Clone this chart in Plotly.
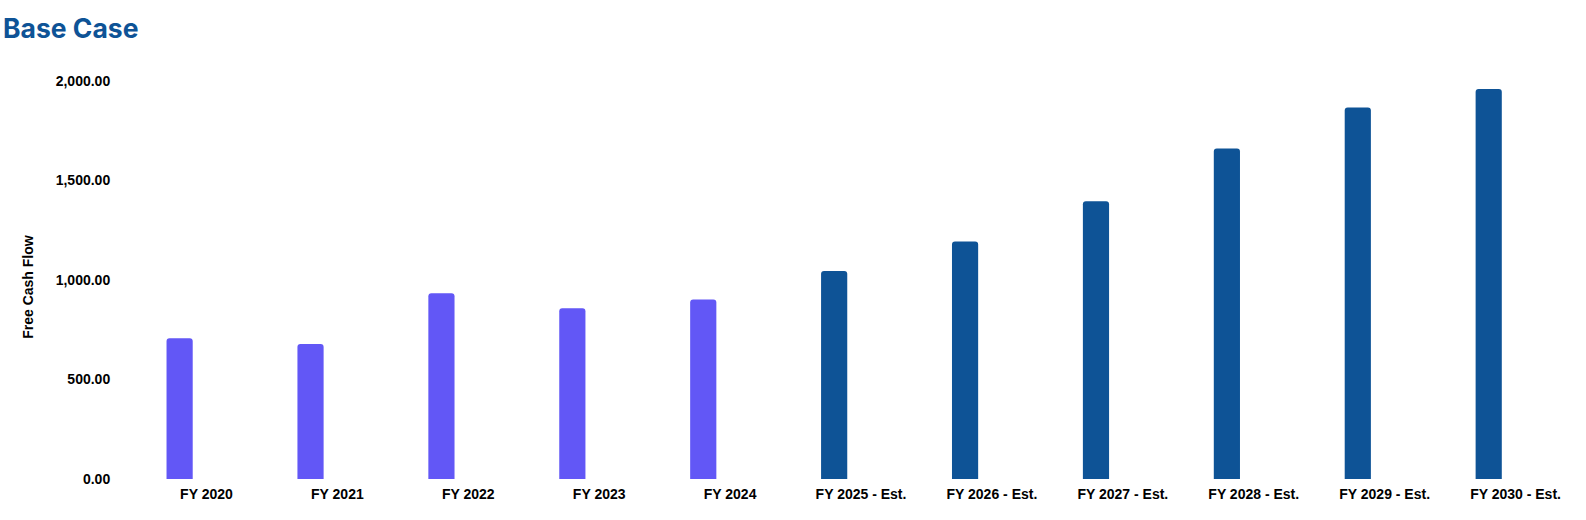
import plotly.graph_objects as go

categories = ["FY 2020", "FY 2021", "FY 2022", "FY 2023", "FY 2024",
              "FY 2025 - Est.", "FY 2026 - Est.", "FY 2027 - Est.",
              "FY 2028 - Est.", "FY 2029 - Est.", "FY 2030 - Est."]
free_cash_flow = [707, 678, 933, 858, 902, 1045, 1194, 1396, 1661, 1867, 1960]
is_estimate = [False, False, False, False, False, True, True, True, True, True, True]
y_ticks = [0, 500, 1000, 1500, 2000]

HIST = "#6257F6"
EST = "#0E5396"
colors = [EST if e else HIST for e in is_estimate]

font_fam = "Liberation Sans, Arial, sans-serif"

fig = go.Figure()
fig.add_trace(go.Bar(
    x=categories, y=free_cash_flow,
    marker=dict(color=colors, line=dict(width=0), cornerradius=3),
    width=0.2, offset=-0.305,
    hovertemplate="%{x}: %{y:,.2f}<extra></extra>",
))

fig.update_layout(
    width=1586, height=520,
    margin=dict(l=140.5, r=4.5, t=81.3, b=40.7),
    paper_bgcolor="white", plot_bgcolor="white",
    showlegend=False,
    title=dict(text="Base Case", xref="container", yref="container",
               x=3/1586, xanchor="left", y=1 - 29/520, yanchor="middle",
               font=dict(family="Inter, Roboto, sans-serif", size=26.5,
                         color=EST, weight=700)),
    xaxis=dict(showgrid=False, zeroline=False, showline=False,
               ticks="outside", ticklen=2, tickcolor="rgba(0,0,0,0)",
               tickfont=dict(family=font_fam, size=14, color="#000000", weight="bold"),
               range=[-0.5, 10.5], fixedrange=True, automargin=False),
    yaxis=dict(showgrid=False, zeroline=False, showline=False,
               range=[0, 2000], tickvals=y_ticks, tickformat=",.2f",
               ticks="outside", ticklen=27, tickcolor="rgba(0,0,0,0)",
               tickfont=dict(family=font_fam, size=14, color="#000000", weight="bold"),
               fixedrange=True, automargin=False),
    annotations=[dict(text="<b>Free Cash Flow</b>", textangle=-90,
                      xref="paper", yref="paper",
                      x=(28 - 140.5) / 1441, y=(479.3 - 287.5) / 398,
                      xanchor="center", yanchor="middle", showarrow=False,
                      font=dict(family=font_fam, size=14, color="#000000"))],
)

fig.write_html("out.html",
               config={"displayModeBar": False},
               post_script="document.body.style.margin='0';document.body.style.padding='0';")
